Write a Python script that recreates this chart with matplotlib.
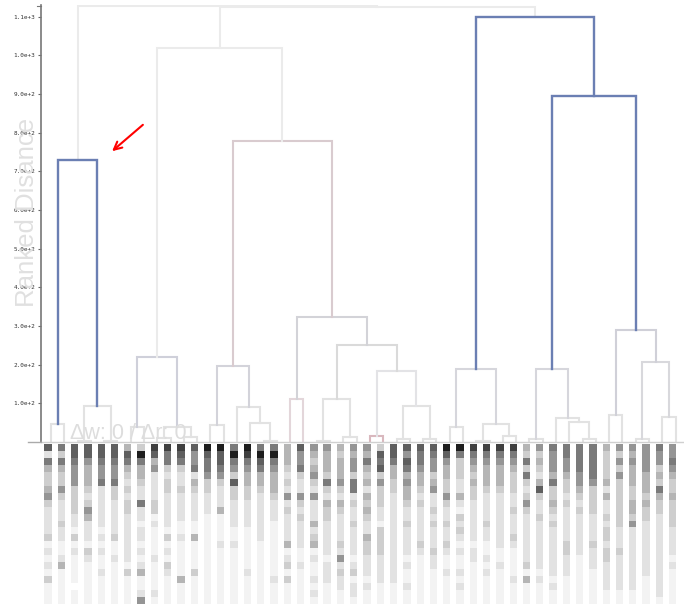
import matplotlib
matplotlib.use("Agg")
import matplotlib.pyplot as plt
import numpy as np

# dendrogram: (merge height, left, right); ints are leaf ids (left to right order)
A = (730, (47, 0, 1), (93, (3, 2, 3), (3, 4, 5)))
B_left = (220, (40, 6, 7), (38, (10, 8, 9), (12, 10, 11)))
B_rl = (197, (44, 12, 13), (90, 14, (50, 15, (3, 16, 17))))
B_rr = (323, (110, 18, 19),
        (250, (112, (3, 20, 21), (14, 22, 23)),
         (184, (15, 24, 25), (93, (9, 26, 27), (9, 28, 29)))))
B = (1020, B_left, (778, B_rl, B_rr))
C_left = (190, (40, 30, 31), (47, (3, 32, 33), (16, 34, 35)))
C_rl = (190, (8, 36, 37), (63, 38, (53, 39, (7, 40, 41))))
C_rr = (290, (70, 42, 43), (208, (7, 44, 45), (64, 46, 47)))
C = (1100, C_left, (895, C_rl, C_rr))
TREE = (1128, A, (1124, B, C))

y_ticks = list(range(100, 1200, 100))
y_label = "Ranked Disance"
note = "Δw: 0 / Δr: 0"

# heatmap below the leaves, one string per leaf column, top row first (0 = white, 9 = black)
HEAT = [
    "72643345322223121213111", "63643353222322112411111", "77655533332213121111011",
    "77544432354222132111111", "77655622222212121121111", "77655633222223112111111",
    "47643232332222222131111", "39644322622122121241125", "87452222331211112111121",
    "86632332222213121321111", "87632232222112111114111", "75562432222114111131111",
    "97665332221111111111111", "97765322241111211111111", "69653733222211211111111",
    "98654433222211111121111", "69764432222222111111111", "69654443222111111112111",
    "44432325232222412313111", "75563225323222211211111", "54345325222423412112121",
    "54443632433222221222111", "43444532432222325232211", "54553662322322221231221",
    "54643424343224332221211", "37673533322133332222111", "77644332222222222222111",
    "75764544322322221211211", "76654432322222321111111", "76553452232322232211111",
    "97544335322322321121111", "96333224213232121121211", "86543433222222122111111",
    "86544432222322112121111", "86544432222222211211111", "86543332232223211112111",
    "43636323532222222314111", "53432473223222222212111", "65554633432322222221211",
    "66554332322222332221111", "66665543232222221111111", "66666533332222322211111",
    "43333424223233233222211", "53535333333322232222211", "54544433443522222222211",
    "55554443433222222221111", "65534364332222222222221", "55654334333322221211111",
]

BLUE = "#6b7fb3"
LINK_COLOR = {
    1128: "#ebebeb", 1124: "#ebebeb", 1020: "#ebebeb",
    1100: BLUE, 895: BLUE, 730: BLUE,
    778: "#d9cbcf", 220: "#cfd0da", 197: "#d3d3da", 323: "#d3d3d8",
    250: "#dadada", 184: "#e3e3e6", 112: "#e2e2e2", 110: "#e3d6da",
    15: "#d9b8be", 190: "#d6d6dc", 290: "#d0d0d8", 208: "#d8d8dc",
}
DEFAULT_COLOR = "#e2e2e2"

W, H = 684, 604


def box(l, t, r, b):
    return [l / W, 1 - b / H, (r - l) / W, (b - t) / H]


fig = plt.figure(figsize=(W / 100, H / 100), dpi=100)
ax = fig.add_axes(box(41, 5, 684, 442))
hx = fig.add_axes(box(41, 444, 684, 604))

order = iter(range(len(HEAT)))


def draw(node):
    if isinstance(node, int):
        return next(order), 0
    h, left, right = node
    xl, hl = draw(left)
    xr, hr = draw(right)
    c = LINK_COLOR.get(h, DEFAULT_COLOR)
    lw = 1.7 if c == BLUE else 1.5
    ax.plot([xl, xl, xr, xr], [hl, h, h, hr], color=c, lw=lw,
            solid_joinstyle="miter", zorder=3 if c == BLUE else 2)
    return (xl + xr) / 2, h


draw(TREE)

xmin, xmax = -0.75, 47.63
ax.set_xlim(xmin, xmax)
ax.set_ylim(0, 1130)
ax.set_xticks([])
ax.set_yticks(y_ticks)
ax.set_yticklabels([f"{v / 10 ** int(np.log10(v)):.1f}e+{int(np.log10(v))}" for v in y_ticks],
                   family="DejaVu Sans Mono", fontsize=4.3, color="#333333")
ax.tick_params(axis="y", length=2.5, width=0.8, color="#666666", pad=1.5)
for s in ["top", "right"]:
    ax.spines[s].set_visible(False)
ax.spines["left"].set_color("#777777")
ax.spines["left"].set_linewidth(1.2)
ax.spines["bottom"].set_color("#d0d0d0")
ax.spines["bottom"].set_linewidth(1.0)
ax.set_facecolor("none")

# axis caps
fig.add_artist(plt.Line2D([28 / W, 41 / W], [1 - 442 / H] * 2, color="#aaaaaa", lw=1.0))
fig.add_artist(plt.Line2D([37 / W, 41 / W], [1 - 5.5 / H] * 2, color="#777777", lw=0.8))

# heatmap columns
cmap = plt.get_cmap("Greys")
for i, col in enumerate(HEAT):
    vals = np.array([int(c) for c in col])
    hx.bar(np.full(len(vals), i - 0.22), 1, bottom=np.arange(len(vals)), width=0.55,
           color=cmap(vals / 10), align="center", linewidth=0)
hx.set_xlim(xmin, xmax)
hx.set_ylim(len(HEAT[0]), 0)
hx.axis("off")

fig.text(27 / W, 1 - 212 / H, y_label, rotation=90, ha="center", va="center",
         fontsize=18.5, color="#e0e0e0", family="Liberation Sans")
fig.text(70 / W, 1 - 439 / H, note, ha="left", va="baseline",
         fontsize=15.5, color="#dddddd", family="Liberation Sans", zorder=5)

ax.annotate("", xy=(110, H - 153), xytext=(145, H - 123),
            xycoords="figure pixels", textcoords="figure pixels",
            arrowprops=dict(arrowstyle="->", color="red", lw=1.5, mutation_scale=14))

fig.savefig("out.png", dpi=100)
plt.close(fig)
